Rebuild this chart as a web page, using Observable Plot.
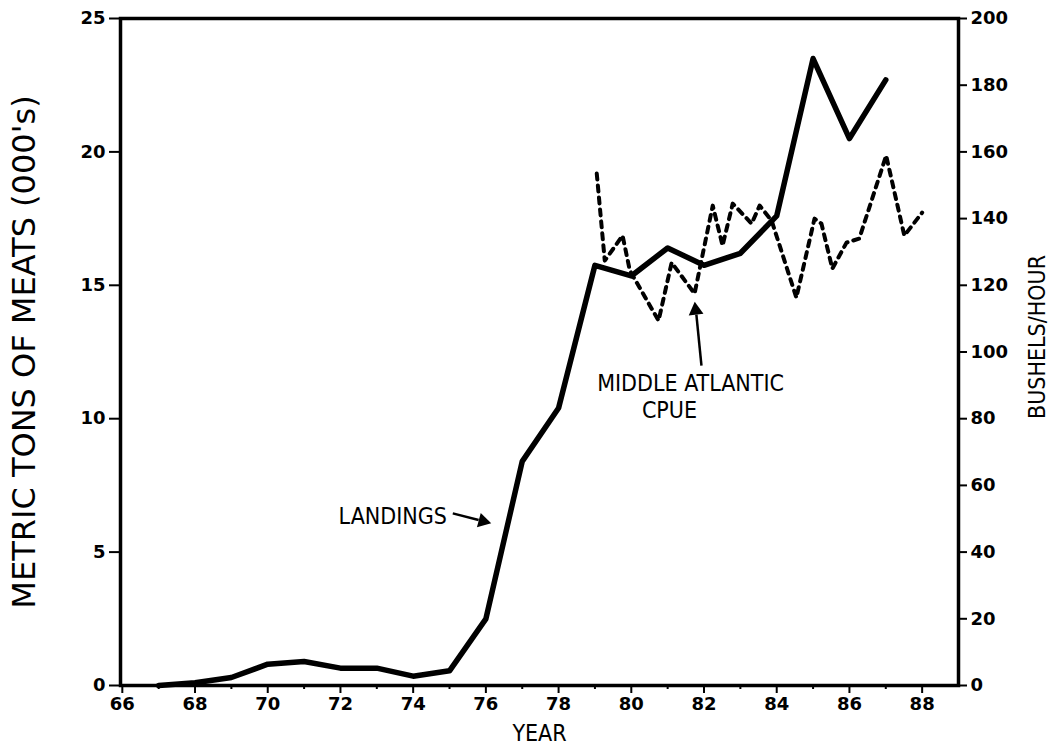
<!DOCTYPE html>
<html><head><meta charset="utf-8">
<script src="https://cdn.jsdelivr.net/npm/d3@7"></script>
<script src="https://cdn.jsdelivr.net/npm/@observablehq/plot@0.6"></script>
<style>body{margin:0;background:#fff}</style>
</head><body><div id="chart"></div>
<script>
// Landings, thousand metric tons of meats
const landingYears = [67,68,69,70,71,72,73,74,75,76,77,78,79,80,81,82,83,84,85,86,87];
const landings =     [0,0.1,0.3,0.8,0.9,0.65,0.65,0.35,0.55,2.5,8.4,10.4,15.75,15.35,16.4,15.75,16.2,17.6,23.5,20.5,22.7];
// Middle Atlantic CPUE, bushels/hour
const cpueYears = [79.05,79.27,79.76,79.96,80.75,81.11,81.74,82.24,82.51,82.79,83.31,83.53,83.86,84.54,85.04,85.23,85.53,85.92,86.27,87.01,87.51,88.0];
const cpue =      [153.5,127.4,134.9,124.4,109.4,126.8,117.5,143.9,131.9,144.5,138.5,143.9,139.4,116.3,140.0,138.5,125.0,132.8,134.0,158.9,134.9,141.8];
const leftTicks = [0,5,10,15,20,25];
const rightTicks = [0,20,40,60,80,100,120,140,160,180,200];
const xMajorTicks = [66,68,70,72,74,76,78,80,82,84,86,88];
const xMinorTicks = [67,69,71,73,75,77,79,81,83,85,87];
const RATIO = 8; // 200 bushels/hour on the right = 25 thousand tons on the left
const endNotes = [{text:"LANDINGS", year:74.93, value:6.33}];
const midNotes = [
  {text:"MIDDLE ATLANTIC", year:81.63, value:11.3},
  {text:"CPUE", year:81.05, value:10.31}
];
const arrowShafts = [
  {x1:75.09, y1:6.45, x2:75.8, y2:6.2},
  {x1:81.93, y1:11.99, x2:81.79, y2:13.9}
];
const arrowHeads = [
  {year:75.92, value:6.16, angle:105},
  {year:81.77, value:14.06, angle:-6}
];

const landingsData = landingYears.map((y,i)=>({year:y, value:landings[i]}));
const cpueData = cpueYears.map((y,i)=>({year:y, value:cpue[i]}));

const tickFont = {fontSize:18, fontWeight:"bold"};
const noteFont = {fontSize:23, fontFamily:"DejaVu Sans Condensed", fontWeight:"500"};
const plot = Plot.plot({
  width:1054, height:748,
  marginLeft:120, marginRight:96, marginTop:18, marginBottom:63,
  style:{fontFamily:"DejaVu Sans", background:"#fff", color:"#000"},
  x:{domain:[65.95,89], label:null},
  y:{domain:[0,25], label:null},
  marks:[
    Plot.axisX(xMinorTicks, {tickSize:4, strokeWidth:2, tickFormat:()=>"", label:null}),
    Plot.axisX(xMajorTicks, {tickSize:8, strokeWidth:2, tickPadding:4, ...tickFont, label:null}),
    Plot.axisY(leftTicks, {anchor:"left", tickSize:11, strokeWidth:2, tickPadding:4, ...tickFont, label:null}),
    Plot.axisY(rightTicks.map(v=>v/RATIO), {anchor:"right", tickSize:8, strokeWidth:2, tickPadding:4, ...tickFont, label:null,
      tickFormat:d=>String(Math.round(d*RATIO))}),
    Plot.frame({strokeWidth:3.5}),
    Plot.line(cpueData, {x:"year", y:d=>d.value/RATIO, strokeWidth:4, strokeDasharray:"6,6", strokeLinecap:"round"}),
    Plot.line(landingsData, {x:"year", y:"value", strokeWidth:5.5}),
    Plot.text(endNotes, {x:"year", y:"value", text:"text", textAnchor:"end", ...noteFont}),
    Plot.text(midNotes, {x:"year", y:"value", text:"text", textAnchor:"middle", ...noteFont}),
    Plot.link(arrowShafts, {x1:"x1", y1:"y1", x2:"x2", y2:"y2", strokeWidth:2.5}),
    Plot.dot(arrowHeads, {x:"year", y:"value", symbol:"triangle", r:5.5, rotate:"angle", fill:"#000", stroke:"none"}),
    Plot.text(["YEAR"], {frameAnchor:"bottom", dy:55, fontSize:23, fontFamily:"DejaVu Sans Condensed"}),
    Plot.text(["METRIC TONS OF MEATS (000's)"], {frameAnchor:"left", textAnchor:"middle", dx:-96, rotate:-90, fontSize:32}),
    Plot.text(["BUSHELS/HOUR"], {frameAnchor:"right", textAnchor:"middle", dx:79, dy:-15, rotate:-90, fontSize:23, fontFamily:"DejaVu Sans Condensed", fontWeight:"500"})
  ]
});
document.getElementById("chart").appendChild(plot);
</script>
</body></html>
